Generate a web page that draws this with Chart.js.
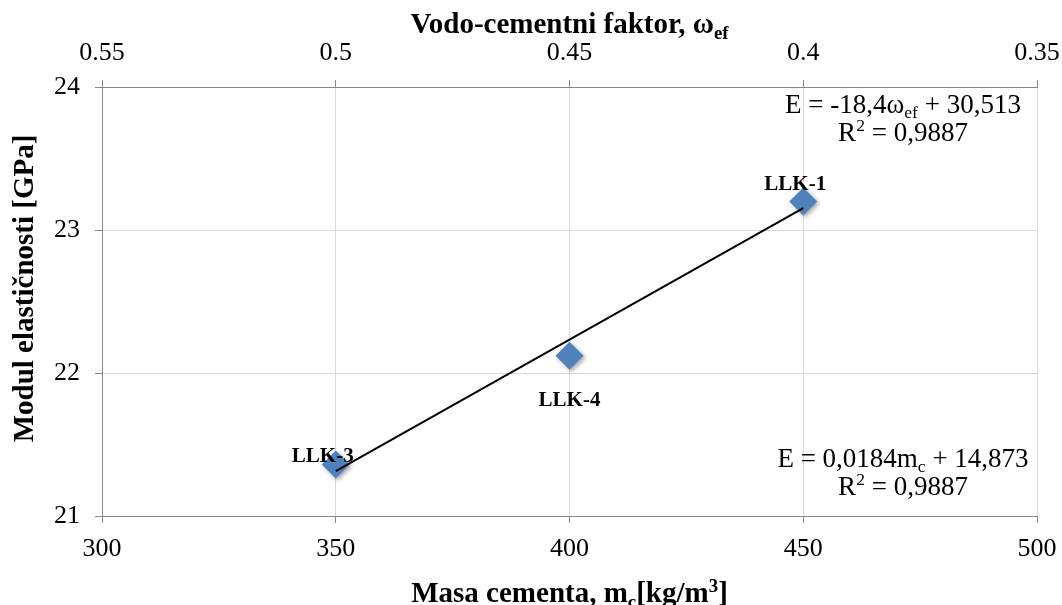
<!DOCTYPE html>
<html>
<head>
<title>Modul elasticnosti</title>
<script src="https://cdn.jsdelivr.net/npm/chart.js@4.4.0/dist/chart.umd.min.js"></script>
<style>
  body { margin: 0; background: #fff; }
  #wrap { width: 1062px; height: 605px; }
</style>
</head>
<body>
<div id="wrap"><canvas id="chart"></canvas></div>
<script>
// data
const sampleNames = ['LLK-1', 'LLK-4', 'LLK-3'];
const masaCementa = [450, 400, 350];          // kg/m3
const modulE = [23.20, 22.12, 21.36];         // GPa
const trendX = [350, 450];
const trendY = [21.313, 23.153];
const vcfTicks = ['0.55', '0.5', '0.45', '0.4', '0.35'];

const SERIF = '"Liberation Serif", "DejaVu Serif", serif';
const GRID = '#d9d9d9';
const AXIS = '#868686';

// draws text with sub/superscript pieces, centred on x
function richText(ctx, parts, x, y, size, bold) {
  const w = bold ? 'bold ' : '';
  let total = 0;
  parts.forEach(p => {
    const s = p.sub || p.sup ? size * 0.65 : size;
    ctx.font = w + s + 'px ' + SERIF;
    p.w = ctx.measureText(p.t).width;
    total += p.w;
  });
  let cx = x - total / 2;
  ctx.textAlign = 'left';
  ctx.textBaseline = 'alphabetic';
  parts.forEach(p => {
    const s = p.sub || p.sup ? size * 0.65 : size;
    ctx.font = w + s + 'px ' + SERIF;
    let dy = 0;
    if (p.sub) dy = size * 0.2;
    if (p.sup) dy = -size * 0.36;
    ctx.fillText(p.t, cx, y + dy);
    cx += p.w;
  });
}

const extras = {
  id: 'extras',
  beforeDatasetDraw(chart, args) {
    if (args.index === 1) {
      const ctx = chart.ctx;
      ctx.save();
      ctx.shadowColor = 'rgba(0,0,0,0.35)';
      ctx.shadowBlur = 4;
      ctx.shadowOffsetX = 2;
      ctx.shadowOffsetY = 2;
    }
  },
  afterDatasetDraw(chart, args) {
    if (args.index === 1) chart.ctx.restore();
  },
  afterDraw(chart) {
    const ctx = chart.ctx;
    const a = chart.chartArea;
    ctx.save();
    ctx.fillStyle = '#000';

    // point labels
    const offs = [[-8, -17], [0, 45], [-13, -8]];
    chart.getDatasetMeta(1).data.forEach((pt, i) => {
      ctx.font = 'bold 21px ' + SERIF;
      ctx.textAlign = 'center';
      ctx.textBaseline = 'middle';
      ctx.fillText(sampleNames[i], pt.x + offs[i][0], pt.y + offs[i][1]);
    });

    // trendline equations
    const ex = a.right - 134;
    richText(ctx, [{t: 'E = -18,4ω'}, {t: 'ef', sub: true}, {t: ' + 30,513'}], ex, a.top + 26, 27);
    richText(ctx, [{t: 'R'}, {t: '2', sup: true}, {t: ' = 0,9887'}], ex, a.top + 54, 27);
    richText(ctx, [{t: 'E = 0,0184m'}, {t: 'c', sub: true}, {t: ' + 14,873'}], ex, a.bottom - 49, 27);
    richText(ctx, [{t: 'R'}, {t: '2', sup: true}, {t: ' = 0,9887'}], ex, a.bottom - 21, 27);

    // axis titles
    const mx = (a.left + a.right) / 2;
    richText(ctx, [{t: 'Vodo-cementni faktor, ω'}, {t: 'ef', sub: true}], mx, 33, 29, true);
    richText(ctx, [{t: 'Masa cementa, m'}, {t: 'c', sub: true}, {t: '[kg/m'}, {t: '3', sup: true}, {t: ']'}], mx, 602, 29, true);
    ctx.translate(33, (a.top + a.bottom) / 2 - 13);
    ctx.rotate(-Math.PI / 2);
    richText(ctx, [{t: 'Modul elastičnosti [GPa]'}], 0, 0, 29, true);
    ctx.restore();
  }
};

function noSidePad(s) {
  s.paddingLeft = 0;
  s.paddingRight = 0;
}

new Chart(document.getElementById('chart'), {
  type: 'scatter',
  data: {
    datasets: [{
      label: 'trend',
      data: trendX.map((x, i) => ({x: x, y: trendY[i]})),
      showLine: true,
      borderColor: '#000',
      borderWidth: 2,
      pointRadius: 0,
      order: 0
    }, {
      label: 'E',
      data: masaCementa.map((x, i) => ({x: x, y: modulE[i]})),
      pointStyle: 'rectRot',
      pointRadius: 14,
      pointBackgroundColor: '#4f81bd',
      pointBorderColor: '#4f81bd',
      pointBorderWidth: 0,
      order: 1
    }]
  },
  options: {
    responsive: true,
    maintainAspectRatio: false,
    animation: false,
    layout: { padding: { left: 0, right: 25, top: 0, bottom: 0 } },
    plugins: { legend: { display: false }, tooltip: { enabled: false } },
    scales: {
      x: {
        type: 'linear', position: 'bottom', min: 300, max: 500,
        ticks: { stepSize: 50, color: '#000', font: { family: SERIF, size: 26 }, padding: 11 },
        grid: { color: GRID, tickColor: AXIS, tickLength: 7 },
        border: { color: AXIS, width: 1 },
        afterFit: s => { s.height = 89; noSidePad(s); }
      },
      x2: {
        type: 'linear', position: 'top', reverse: true, min: 0.35, max: 0.55,
        ticks: {
          stepSize: 0.05, color: '#000', font: { family: SERIF, size: 26 }, padding: 11,
          callback: v => vcfTicks.find(t => Math.abs(+t - v) < 1e-6) || ''
        },
        grid: { drawOnChartArea: false, tickColor: AXIS, tickLength: 7 },
        border: { color: AXIS, width: 1 },
        afterFit: s => { s.height = 87; noSidePad(s); }
      },
      y: {
        min: 21, max: 24,
        ticks: { stepSize: 1, color: '#000', font: { family: SERIF, size: 26 }, padding: 15 },
        grid: { color: GRID, tickColor: AXIS, tickLength: 7 },
        border: { color: AXIS, width: 1 },
        afterFit: s => { s.width = 102; s.paddingTop = 0; s.paddingBottom = 0; }
      }
    }
  },
  plugins: [extras]
});
</script>
</body>
</html>
